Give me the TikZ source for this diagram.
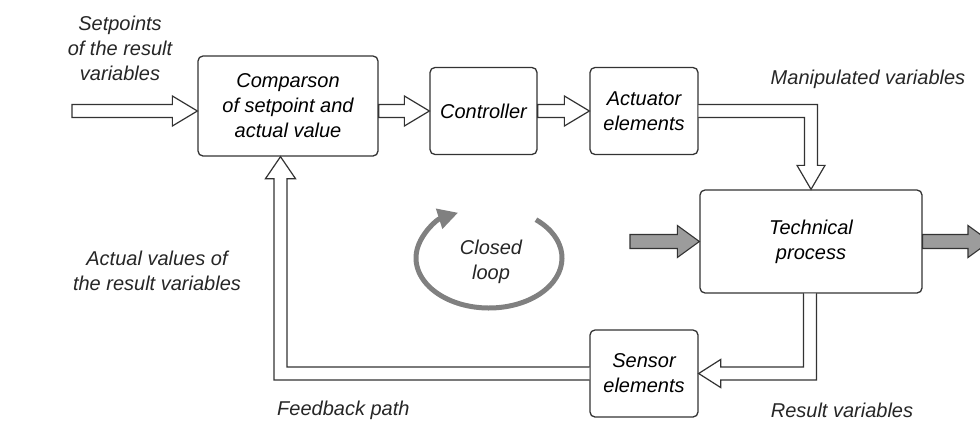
\documentclass[tikz,border=0pt]{standalone}
\usepackage{fontspec}
\setmainfont{Liberation Sans}
\usetikzlibrary{calc,arrows.meta}
\definecolor{linegray}{HTML}{333333}
\definecolor{flowgray}{HTML}{9C9C9C}
\definecolor{loopgray}{HTML}{808080}
\tikzset{
  block/.style={draw=linegray, line width=1.3pt, rounded corners=5pt,
    align=center, inner sep=0pt},
  txt/.style={align=center, inner sep=0pt, text=black!85},
  pipe/.style={draw=linegray, line width=1.2pt, fill=white, line join=miter},
  flow/.style={draw=linegray, line width=1.1pt, fill=flowgray, line join=miter}
}
\begin{document}
\begin{tikzpicture}[x=1pt, y=-1pt, font=\fontsize{20}{25}\selectfont\itshape,
	line cap=round, >=stealth]
	\useasboundingbox (0,0) rectangle (980,421);
	\clip (0,0) rectangle (980,421);
	% blocks
	\node[block, minimum width=180, minimum height=100] (cmp) at (288,106)
	{Comparson\\of setpoint and\\actual value};
	\node[block, minimum width=107, minimum height=87] (ctl) at (483.5,111) {Controller};
	\node[block, minimum width=108, minimum height=87] (act) at (644,111) {Actuator\\elements};
	\node[block, minimum width=222, minimum height=103] (proc) at (811,241.5) {Technical\\process};
	\node[block, minimum width=108, minimum height=87] (sens) at (644,373.5) {Sensor\\elements};
	% texts
	\node[txt] (setp) at (120,48) {Setpoints\\of the result\\variables};
	\node[txt] (manip) at (868,79) {Manipulated variables};
	\node[txt] (actual) at (157,271) {Actual values of\\the result variables};
	\node[txt, anchor=west] (feedb) at (277,410) {Feedback path};
	\node[txt] (result) at (842,410) {Result variables};
	\node[txt] (loop) at (491,262) {Closed\\loop};
	% forward path
	\coordinate (src) at (72,111);
	\foreach \s/\t in {src/cmp.west, cmp.east/ctl.west, ctl.east/act.west}
	\draw[pipe] ($(\s|-ctl)+(0,-6.5)$) -- ($(\t|-ctl)+(-25,-6.5)$)
	-- ($(\t|-ctl)+(-25,-15)$) -- (\t|-ctl) -- ($(\t|-ctl)+(-25,15)$)
	-- ($(\t|-ctl)+(-25,6.5)$) -- ($(\s|-ctl)+(0,6.5)$) -- cycle;
	% manipulated variables
	\path ($(act.east)+(0,-6.5)$) coordinate (mu) ($(act.east)+(0,6.5)$) coordinate (md)
	($(proc.north)+(6.5,-24)$) coordinate (mo) ($(proc.north)+(-6.5,-24)$) coordinate (mi)
	($(proc.north)+(14,-24)$) coordinate (moh) ($(proc.north)+(-14,-24)$) coordinate (mih);
	\draw[pipe] (mu) -- (mu-|mo) -- (mo) -- (moh) -- (proc.north) -- (mih)
	-- (mi) -- (md-|mi) -- (md);
	% result variables
	\path ($(proc.south)+(-7.5,0)$) coordinate (ri) ($(proc.south)+(5.5,0)$) coordinate (ro)
	($(sens.east)+(22,-6.5)$) coordinate (ru) ($(sens.east)+(22,6.5)$) coordinate (rd)
	($(sens.east)+(22,-14)$) coordinate (ruh) ($(sens.east)+(22,14)$) coordinate (rdh);
	\draw[pipe] (ri) -- (ri|-ru) -- (ru) -- (ruh) -- (sens.east) -- (rdh)
	-- (rd) -- (ro|-rd) -- (ro);
	% feedback path
	\coordinate (fb) at ($(cmp.south)+(-7.5,0)$);
	\path ($(sens.west)+(0,-6.5)$) coordinate (fu) ($(sens.west)+(0,6.5)$) coordinate (fd)
	($(fb)+(6.5,22)$) coordinate (fi) ($(fb)+(-6.5,22)$) coordinate (fo)
	($(fb)+(15,22)$) coordinate (fih) ($(fb)+(-15,22)$) coordinate (foh);
	\draw[pipe] (fu) -- (fu-|fi) -- (fi) -- (fih) -- (fb) -- (foh)
	-- (fo) -- (fd-|fo) -- (fd);
	% material flow
	\coordinate (gin) at (630,241.5);
	\coordinate (gout) at (990,241.5);
	\foreach \s/\t in {gin/proc.west, proc.east/gout}
	\draw[flow] ($(\s|-proc)+(0,-7)$) -- ($(\t|-proc)+(-22,-7)$)
	-- ($(\t|-proc)+(-22,-16)$) -- (\t|-proc) -- ($(\t|-proc)+(-22,16)$)
	-- ($(\t|-proc)+(-22,7)$) -- ($(\s|-proc)+(0,7)$) -- cycle;
	% closed loop
	\coordinate (lc) at (489,258);
	\draw[loopgray, line width=5pt, line cap=butt, -{Triangle[length=20pt, width=20pt]}]
	($(lc)+(-50:73 and 50)$) arc[start angle=-50, end angle=245, x radius=73, y radius=50];
\end{tikzpicture}
\end{document}
